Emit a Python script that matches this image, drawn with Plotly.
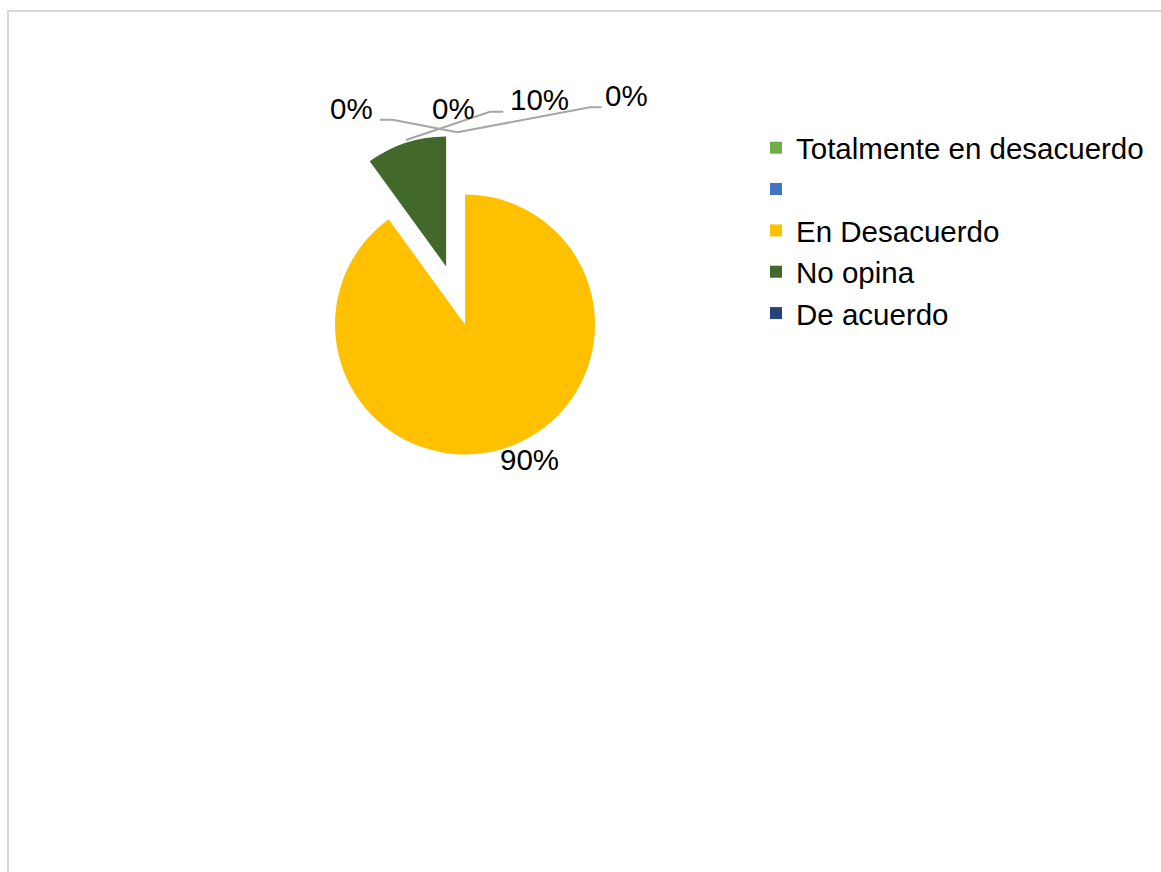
import plotly.graph_objects as go

# Survey answers and their shares (%)
categories = ["Totalmente en desacuerdo", " ", "En Desacuerdo", "No opina", "De acuerdo"]
shares = [0, 0, 90, 10, 0]
slice_colors = ["#70AD47", "#4472C4", "#FFC000", "#43682B", "#264478"]
pulled = [0, 0, 0, 0.47, 0]

W, H = 1161, 872


def px(x):
    return x / W


def py(y):
    return 1 - y / H


# Pie placement (pixel centre and radius on the page)
cx, cy, radius = 465, 324.5, 130
box = radius * 2 * (1 + max(pulled))

fig = go.Figure(
    go.Pie(
        labels=categories,
        values=shares,
        sort=False,
        direction="clockwise",
        rotation=0,
        pull=pulled,
        marker=dict(colors=slice_colors, line=dict(width=0)),
        textinfo="none",
        hoverinfo="label+percent",
        domain=dict(
            x=[px(cx - box / 2), px(cx + box / 2)],
            y=[py(cy + box / 2), py(cy - box / 2)],
        ),
    )
)

# Data-label placement (pixel centres) in slice order
label_pos = [(351, 108), (453, 108), (529, 459), (539, 100), (626, 95)]
for (lx, ly), v in zip(label_pos, shares):
    fig.add_annotation(
        x=px(lx), y=py(ly), xref="paper", yref="paper",
        text=f"{v}%", showarrow=False,
        font=dict(family="Liberation Sans, Arial", size=29.5, color="#000000"),
        xanchor="center", yanchor="middle",
    )

# Leader lines from the outer labels to their slices
leaders = [
    [(380, 119.7), (392.7, 119.7), (457.3, 132.3)],
    [(503.3, 111.7), (490, 111.7), (406, 140)],
    [(601.7, 107.3), (590, 107.3), (457.3, 132.3)],
]
for pts in leaders:
    path = "M " + " L ".join(f"{px(x)},{py(y)}" for x, y in pts)
    fig.add_shape(type="path", path=path, xref="paper", yref="paper",
                  line=dict(color="#A6A6A6", width=2))

# Chart-area frame
fig.add_shape(type="rect", xref="paper", yref="paper",
              x0=px(8), x1=1.05, y0=-0.05, y1=py(11),
              line=dict(color="#D9D9D9", width=2), fillcolor="rgba(0,0,0,0)",
              layer="below")

fig.update_layout(
    width=W, height=H,
    margin=dict(l=0, r=0, t=0, b=0),
    paper_bgcolor="#FFFFFF",
    plot_bgcolor="#FFFFFF",
    showlegend=True,
    legend=dict(
        x=px(756), y=py(122), xanchor="left", yanchor="top",
        font=dict(family="Liberation Sans, Arial", size=29.5, color="#000000"),
        bgcolor="rgba(0,0,0,0)", borderwidth=0,
        traceorder="normal",
    ),
)

fig.write_html("out.html")
